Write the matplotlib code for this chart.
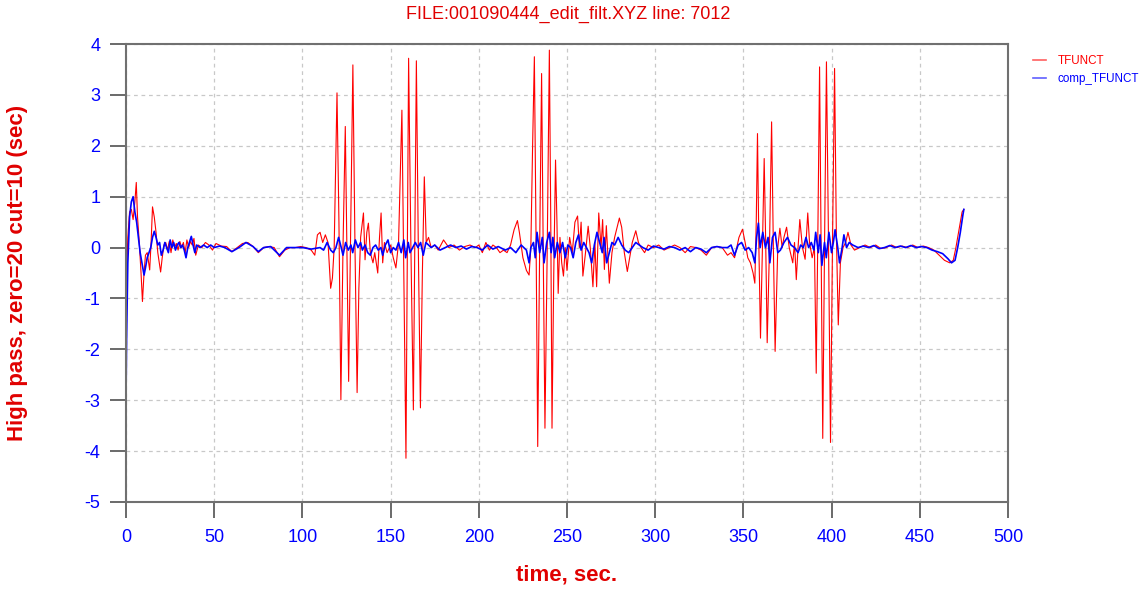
import matplotlib
matplotlib.use("Agg")
import matplotlib.pyplot as plt
from matplotlib.lines import Line2D

title = "FILE:001090444_edit_filt.XYZ line: 7012"
xlabel = "time, sec."
ylabel = "High pass, zero=20 cut=10 (sec)"
series_names = ["TFUNCT", "comp_TFUNCT"]
xticks = list(range(0, 501, 50))
yticks = list(range(-5, 5))

t_red = [0, 0.5, 1, 2, 3, 4, 5, 5.8, 6.5, 7.5, 8.5, 9.3, 10.2, 11, 12, 13.4, 14.2, 15, 16, 17, 18,
         19.6, 20.5, 21.5, 22.5, 23.5, 24.5, 25.5, 26.5, 27.5, 28.5, 29.5, 30.5, 31.5, 32.5, 33.5,
         34.5, 35.5, 36.5, 37.5, 38.5, 39.5, 41, 43, 45, 47, 49, 51, 54, 57, 60, 63, 66, 69, 72, 75,
         78, 81, 84, 87, 90, 93, 96, 99, 102, 105, 107, 108.5, 110, 111.5, 113, 114.5, 116, 117, 118,
         119.6, 120.7, 121.8, 123, 124.3, 125.2, 126.2, 127.4, 128.6, 129.8, 131, 132, 133, 134.6,
         135.5, 136.5, 137.4, 138.5, 140, 141, 142.7, 143.7, 144.6, 145.5, 146.5, 148, 150, 151.5,
         153, 154.5, 155.5, 156.4, 157.5, 158.7, 159.5, 160.2, 161.5, 162.9, 163.8, 164.6, 165.7,
         166.9, 168, 169.1, 170.2, 171.5, 173, 175, 177, 180, 183, 186, 189, 192, 195, 198, 200, 202,
         204, 206, 208, 210, 212, 214, 216, 218, 220, 221.9, 223, 225, 227, 228.5, 229.5, 230.5, 231.5,
         232.5, 233.4, 234.5, 235.6, 236.5, 237.5, 238.8, 240, 240.8, 241.5, 242.5, 243.5, 244.3, 245,
         246, 247, 248, 249, 250, 251.5, 253, 254.5, 256, 257, 258, 259, 260.5, 262, 263.2, 264.7,
         265.8, 266.8, 268, 269.3, 270.2, 271.2, 272.3, 274, 275.5, 277, 279.7, 281, 282.5, 284.2,
         285.5, 287, 289, 290.5, 292, 294, 296, 299, 302, 305, 308, 311, 314, 317, 320, 323, 326, 329,
         332, 335, 338, 341, 343, 345, 347.5, 349.5, 351, 352.5, 354, 355.5, 356.5, 357.3, 358, 358.8,
         359.7, 360.8, 361.8, 362.7, 363.5, 364.8, 366, 367, 368, 369.5, 370.7, 372, 373, 374.5, 376,
         378, 379, 380, 381, 382, 383.5, 385, 386.5, 387.5, 389, 390.3, 391.3, 392.3, 393.2, 394.1,
         395, 396, 397.1, 398.3, 399.4, 400.5, 401.7, 402.7, 403.8, 405, 406.5, 408, 409.3, 411, 413,
         416, 419, 422, 425, 428, 431, 434, 437, 440, 443, 446, 449, 452, 455, 458, 461, 464, 467, 469,
         470.5, 472, 474, 475]
v_red = [-1.0, -0.3, 0.2, 0.7, 0.75, 0.55, 0.9, 1.28, 0.6, 0.1, -0.5, -1.06, -0.5, -0.15, -0.1, -0.44,
         0.1, 0.8, 0.6, 0.3, -0.1, -0.48, -0.2, 0.05, 0.1, -0.05, 0.12, -0.1, 0.15, 0.0, 0.08, -0.05,
         0.12, 0.0, 0.1, -0.1, 0.15, 0.0, 0.12, 0.05, 0.18, -0.15, 0.05, 0.0, 0.1, 0.05, -0.05, 0.08,
         0.03, 0.02, -0.08, 0.0, 0.08, 0.1, 0.02, -0.1, 0.0, 0.02, 0.0, -0.18, -0.05, 0.0, 0.0, 0.02,
         0.0, -0.05, -0.15, 0.25, 0.3, 0.1, 0.25, 0.1, -0.8, -0.6, 0.0, 3.04, 0.5, -2.99, 0.0, 2.38, 0.0,
         -2.63, 0.5, 3.59, 0.0, -2.85, -0.8, 0.2, 0.68, -0.24, 0.3, 0.48, -0.1, -0.3, -0.1, -0.5, 0.2,
         0.68, -0.3, 0.1, -0.1, 0.05, -0.2, -0.4, 0.1, 1.5, 2.70, -0.5, -4.14, 0.0, 3.72, 0.0, -3.19,
         0.5, 3.67, 0.0, -3.15, -0.5, 1.39, 0.1, 0.2, 0.0, 0.05, -0.05, 0.15, 0.0, 0.05, -0.05, 0.02,
         0.05, 0.0, 0.05, -0.1, 0.1, -0.05, 0.05, 0.0, -0.1, -0.05, -0.1, 0.05, 0.35, 0.53, 0.3, -0.2,
         -0.45, -0.54, 0.0, 2.0, 3.75, 0.0, -3.91, 0.0, 3.42, 0.0, -3.55, 0.0, 3.88, 0.5, -3.55, -0.5,
         1.72, 0.5, -0.9, 0.2, -0.3, -0.56, 0.0, -0.45, 0.2, -0.1, 0.5, 0.62, 0.0, 0.5, -0.56, -0.1,
         0.42, 0.0, -0.77, 0.1, -0.77, 0.68, 0.0, 0.55, -0.43, 0.43, -0.7, -0.1, 0.2, 0.58, 0.4, -0.1,
         -0.47, -0.2, 0.1, 0.33, 0.1, 0.0, -0.1, 0.05, 0.0, 0.05, -0.05, 0.0, 0.05, 0.0, -0.1, 0.02,
         0.0, -0.05, -0.15, 0.0, 0.02, 0.0, -0.15, -0.1, -0.2, 0.2, 0.36, 0.1, -0.2, -0.3, -0.5, -0.7,
         0.5, 2.24, 0.0, -1.78, 0.0, 1.75, 0.0, -1.87, 0.0, 2.47, 0.0, -2.04, 0.0, 0.38, 0.0, 0.2, 0.4,
         0.0, -0.3, 0.1, -0.63, 0.0, 0.55, 0.0, -0.23, 0.68, 0.1, -0.2, 0.0, -2.47, 0.5, 3.55, 0.0,
         -3.75, 0.0, 3.65, 0.0, -3.83, 0.0, 3.52, 0.3, -1.52, -0.3, 0.0, 0.1, 0.3, 0.05, -0.05, 0.0,
         0.05, 0.0, 0.05, -0.02, 0.0, 0.05, 0.0, 0.03, 0.0, 0.05, 0.0, 0.03, 0.0, -0.05, -0.15, -0.25,
         -0.3, -0.25, 0.0, 0.3, 0.7, 0.75]

# comp_TFUNCT, in time segments
t_blue_a = [0, 0.3, 1, 2, 3, 4, 5, 6, 7, 8, 9, 10.2, 11, 12, 13, 14, 15, 16, 17, 18,
            19, 20, 21, 22, 23, 24, 25, 26, 27, 28, 29, 30, 31, 32, 33, 34, 35, 37, 38, 39,
            40, 42, 44, 46, 48, 50, 53, 56, 60, 64, 68, 72, 75, 78, 82, 87, 91, 95, 100, 105]
v_blue_a = [-2.9, -1.8, -0.3, 0.6, 0.9, 1.0, 0.7, 0.5, 0.2, -0.1, -0.3, -0.54, -0.4, -0.2, -0.1, 0.0, 0.2, 0.32, 0.2, 0.05,
            0.1, -0.15, -0.05, 0.1, 0.0, -0.1, 0.15, 0.0, 0.1, -0.05, 0.05, 0.1, 0.0, 0.05, -0.05, -0.2, 0.0, 0.22, 0.05, -0.1,
            0.05, 0.0, 0.05, 0.0, 0.05, 0.0, 0.03, 0.0, -0.08, 0.0, 0.1, 0.02, -0.08, 0.0, 0.02, -0.15, 0.0, 0.0, 0.0, -0.03]
t_blue_b = [110, 112, 114, 116, 117.5, 119, 120.5, 122, 123, 124.5,
            126, 127.5, 128.5, 130, 131.5, 133, 134, 135.5, 137, 138.5,
            140, 141.5, 143, 144.5, 145.5, 147, 148.5, 150, 151.5, 153,
            154.5, 156, 157.5, 158.5, 160, 161, 162.5, 164, 165.5, 167,
            168.5, 170, 171.5, 173, 175, 178, 181, 184, 187, 190,
            193, 196, 199, 202, 205, 208, 211]
v_blue_b = [0.0, -0.05, 0.1, -0.05, -0.1, 0.0, 0.2, 0.0, -0.15, 0.1,
            -0.05, 0.05, -0.1, 0.15, 0.0, 0.1, -0.05, 0.05, -0.1, -0.15,
            0.0, 0.05, -0.05, 0.0, -0.15, 0.05, 0.15, -0.1, 0.0, -0.05,
            0.1, -0.1, 0.15, -0.2, 0.1, -0.1, 0.0, 0.1, 0.0, 0.1,
            -0.15, 0.1, 0.05, 0.0, 0.05, -0.05, 0.0, 0.05, 0.0, 0.03,
            -0.03, 0.02, 0.0, -0.05, 0.05, -0.03, 0.02]
t_blue_c = [215, 218, 221, 224, 227, 228.5, 229.5, 231, 232, 233,
            234.5, 236, 237, 238.5, 240, 241, 242, 243, 244.5, 246,
            247.5, 249, 250.5, 252, 253.5, 255, 256.5, 258, 259.5, 261,
            262.5, 264, 265.5, 267, 268.5, 270, 271, 272.5, 274, 275.5,
            277, 279, 281, 283, 285, 287, 289, 291, 293, 296,
            299, 302, 305, 308, 311, 314, 317, 320, 323, 326,
            329, 332, 335, 338]
v_blue_c = [-0.05, 0.0, -0.1, 0.05, -0.05, -0.3, 0.0, 0.1, -0.2, 0.3,
            -0.1, 0.2, -0.3, 0.1, 0.3, -0.1, 0.2, -0.2, 0.1, -0.1,
            0.1, -0.2, 0.05, 0.0, -0.2, 0.1, 0.25, -0.05, 0.1, 0.0,
            -0.1, -0.3, 0.05, 0.3, 0.1, -0.1, 0.2, -0.3, -0.1, 0.1,
            0.05, 0.2, 0.05, -0.05, -0.1, 0.0, 0.1, 0.05, 0.0, -0.05,
            0.03, 0.0, -0.03, 0.02, 0.0, -0.05, 0.0, -0.08, 0.0, -0.03,
            -0.1, 0.0, 0.02, 0.0]
t_blue_d = [341, 343, 345, 347, 349, 351, 353, 355, 356.5, 357.5,
            358.5, 359.5, 361, 362.5, 364, 365, 366.5, 368, 369.5, 371,
            373, 375, 377, 379, 381, 382.5, 384, 385.5, 387, 388.5,
            390, 391, 392.5, 393.5, 394.5, 396, 397, 398.5, 400, 401,
            402, 403.5, 404.5, 406, 407, 408.5, 410]
v_blue_d = [0.0, 0.05, -0.15, 0.05, 0.1, -0.05, 0.0, -0.1, -0.3, 0.2,
            0.48, 0.0, 0.3, 0.0, 0.2, -0.3, 0.2, 0.3, -0.1, -0.05,
            0.1, 0.2, 0.05, 0.0, -0.1, 0.05, 0.0, 0.2, 0.0, 0.1,
            -0.05, 0.3, -0.1, 0.25, -0.35, 0.1, -0.2, 0.3, -0.1, 0.1,
            0.35, 0.0, -0.3, 0.0, 0.25, 0.0, 0.1]
t_blue_e = [412, 415, 418, 421, 424, 427, 430, 433, 436, 439,
            442, 445, 448, 451, 454, 457, 460, 463, 466, 468,
            470, 471.5, 473, 474.5, 475]
v_blue_e = [0.05, 0.0, 0.03, 0.0, 0.04, -0.02, 0.0, 0.04, 0.0, 0.03,
            0.0, 0.04, 0.0, 0.02, 0.0, -0.05, -0.08, -0.12, -0.22, -0.3,
            -0.25, 0.0, 0.3, 0.65, 0.75]

t_blue = t_blue_a + t_blue_b + t_blue_c + t_blue_d + t_blue_e
v_blue = v_blue_a + v_blue_b + v_blue_c + v_blue_d + v_blue_e

plt.rcParams['font.family'] = ['Liberation Sans', 'DejaVu Sans']
plt.rcParams['axes.unicode_minus'] = False
fig = plt.figure(figsize=(11.48, 5.91), dpi=100)
ax = fig.add_axes([0.1098, 0.1506, 0.7682, 0.7749])

ax.plot(t_red, v_red, color='#FF0000', lw=0.8, label=series_names[0])
ax.plot(t_blue, v_blue, color='#0000FF', lw=1.2, label=series_names[1])

ax.set_xlim(0, 500)
ax.set_ylim(-5, 4)
ax.set_xticks(xticks)
ax.set_yticks(yticks)
ax.grid(True, color='#c8c8c8', linestyle=(0, (3, 3)), linewidth=0.9)
for s in ax.spines.values():
    s.set_color('#707070')
    s.set_linewidth(1.5)
ax.tick_params(axis='both', colors='#505050', labelcolor='#0000FF', labelsize=13,
               length=11.5, width=1.2, direction='out')
ax.tick_params(axis='x', pad=8)
ax.tick_params(axis='y', pad=7)

fig.text(568 / 1148, 1 - 14 / 591, title, color='#E00000', fontsize=13,
         ha='center', va='center')
fig.text(567 / 1148, 1 - 575 / 591, xlabel, color='#E00000', fontsize=16,
         fontweight='bold', ha='center', va='center')
fig.text(18 / 1148, 1 - 273 / 591, ylabel, color='#E00000', fontsize=16,
         fontweight='bold', ha='center', va='center', rotation=90)

handles = [Line2D([], [], color='#FF6060', lw=1.2), Line2D([], [], color='#6060FF', lw=1.2)]
leg = fig.legend(handles, series_names, loc='upper left', bbox_to_anchor=(0.891, 0.924),
                 frameon=False, fontsize=8.4, handlelength=1.1, handletextpad=1.0,
                 labelspacing=0.5)
for txt, c in zip(leg.get_texts(), ['#FF0000', '#0000FF']):
    txt.set_color(c)

fig.savefig('out.png', dpi=100)
